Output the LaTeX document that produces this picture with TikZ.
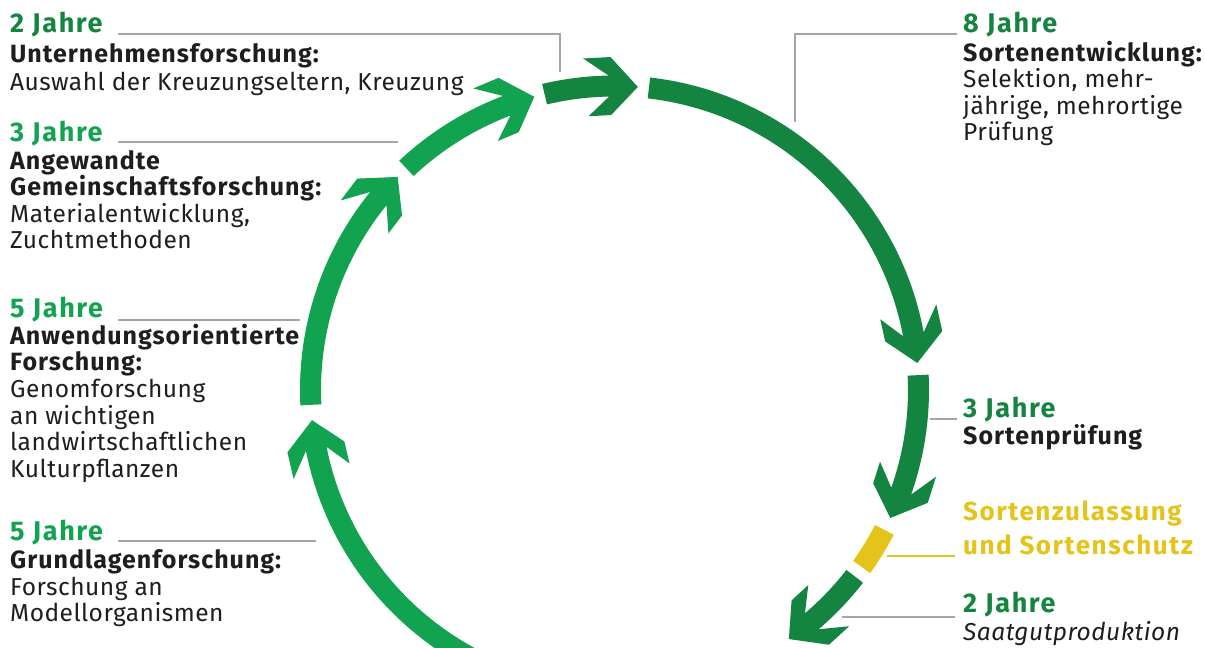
\documentclass[tikz,border=0pt]{standalone}
\usepackage{fontspec}
\setmainfont{Fira Sans}
\definecolor{lgreen}{RGB}{18,163,80}
\definecolor{dgreen}{RGB}{20,133,64}
\definecolor{ylw}{RGB}{228,196,26}
\definecolor{linegray}{RGB}{165,165,165}
\definecolor{txt}{RGB}{30,30,30}
\newcommand{\cyclearrow}[3]{%
  \pgfmathsetmacro{\an}{#2+5.47}%
  \pgfmathsetmacro{\af}{#2+5.09}%
  \pgfmathsetmacro{\ar}{#2+9.8}%
  \fill[#3] (#1:314.5) arc[start angle=#1, end angle=\an, radius=314.5]
    -- (\ar:333) -- (\af:333) -- (#2:304) -- (\af:275) -- (\ar:275)
    -- (\an:293.5) arc[start angle=\an, end angle=#1, radius=293.5] -- cycle;
}
\begin{document}
\begin{tikzpicture}[x=1pt,y=1pt,
  yr/.style={font=\fontsize{27}{30}\selectfont\bfseries\addfontfeatures{LetterSpace=6}, anchor=base west, inner sep=0pt},
  yl/.style={font=\fontsize{26}{30}\selectfont\bfseries\addfontfeatures{LetterSpace=6}, text=ylw, anchor=base west, inner sep=0pt},
  hd/.style={font=\fontsize{25}{30}\selectfont\bfseries\addfontfeatures{LetterSpace=4}, text=txt, anchor=base west, inner sep=0pt},
  bd/.style={font=\fontsize{24.5}{30}\selectfont\addfontfeatures{LetterSpace=2}, text=txt, anchor=base west, inner sep=0pt},
  leader/.style={draw=linegray, line width=1.3pt}]
\useasboundingbox (0,0) rectangle (1205,648);
\fill[white] (0,0) rectangle (1205,648);
\begin{scope}
\clip (0,0) rectangle (1205,648);
\begin{scope}[shift={(614.5,258)}]
\cyclearrow{242}{185.7}{lgreen}
\cyclearrow{182.8}{135.5}{lgreen}
\cyclearrow{133.2}{105.3}{lgreen}
\cyclearrow{103.3}{85.6}{dgreen}
\cyclearrow{83.5}{5.1}{dgreen}
\cyclearrow{2.8}{-24.9}{dgreen}
\fill[ylw] (-27.4:314.5) arc[start angle=-27.4, end angle=-35.6, radius=314.5]
  -- (-35.6:293.5) arc[start angle=-35.6, end angle=-27.4, radius=293.5] -- cycle;
\cyclearrow{-37.8}{-55}{dgreen}
\end{scope}
\end{scope}
% left column
\node[yr, text=dgreen] (j1) at (10,615) {2 Jahre};
\node[hd] (h1) at (10,585) {Unternehmensforschung:};
\node[bd] (b1) at (10,557) {Auswahl der Kreuzungseltern, Kreuzung};
\node[yr, text=lgreen] (j2) at (10,506) {3 Jahre};
\node[hd] (h2a) at (10,478) {Angewandte};
\node[hd] (h2b) at (10,452) {Gemeinschaftsforschung:};
\node[bd] (b2a) at (10,425) {Materialentwicklung,};
\node[bd] (b2b) at (10,399) {Zuchtmethoden};
\node[yr, text=lgreen] (j3) at (10,330) {5 Jahre};
\node[hd] (h3a) at (10,303) {Anwendungsorientierte};
\node[hd] (h3b) at (10,277) {Forschung:};
\node[bd] (b3a) at (10,250) {Genomforschung};
\node[bd] (b3b) at (10,223) {an wichtigen};
\node[bd] (b3c) at (10,197) {landwirtschaftlichen};
\node[bd] (b3d) at (10,170) {Kulturpflanzen};
\node[yr, text=lgreen] (j4) at (10,107) {5 Jahre};
\node[hd] (h4) at (10,79) {Grundlagenforschung:};
\node[bd] (b4a) at (10,52) {Forschung an};
\node[bd] (b4b) at (10,26) {Modellorganismen};
% right column
\node[yr, text=dgreen] (j5) at (963,615) {8 Jahre};
\node[hd] (h5) at (963,586) {Sortenentwicklung:};
\node[bd] (b5a) at (963,560) {Selektion, mehr-};
\node[bd] (b5b) at (963,533) {jährige, mehrortige};
\node[bd] (b5c) at (963,507) {Prüfung};
\node[yr, text=dgreen] (j6) at (963,230) {3 Jahre};
\node[hd] (h6) at (963,203) {Sortenprüfung};
\node[yl] (y1) at (963,127) {Sortenzulassung};
\node[yl] (y2) at (963,93) {und Sortenschutz};
\node[yr, text=dgreen] (j7) at (963,35) {2 Jahre};
\node[bd, font=\fontsize{24.5}{30}\selectfont\itshape\addfontfeatures{LetterSpace=2}] (b7) at (963,8) {Saatgutproduktion};
% leader lines
\coordinate (l1a) at (118,614); \coordinate (l1b) at (560,614); \coordinate (l1c) at (560,576);
\coordinate (l2a) at (118,506); \coordinate (l2b) at (398,506);
\coordinate (l3a) at (118,328); \coordinate (l3b) at (300,328);
\coordinate (l4a) at (118,107); \coordinate (l4b) at (316,107);
\coordinate (r1a) at (957,614); \coordinate (r1b) at (795,614); \coordinate (r1c) at (795,526);
\coordinate (r2a) at (957,229); \coordinate (r2b) at (930,229);
\coordinate (r3a) at (955,92); \coordinate (r3b) at (887,92);
\coordinate (r4a) at (955,31); \coordinate (r4b) at (842,31);
\draw[leader] (l1a) -- (l1b) -- (l1c);
\draw[leader] (l2a) -- (l2b);
\draw[leader] (l3a) -- (l3b);
\draw[leader] (l4a) -- (l4b);
\draw[leader] (r1a) -- (r1b) -- (r1c);
\draw[leader] (r2a) -- (r2b);
\draw[leader, draw=ylw, line width=2pt] (r3a) -- (r3b);
\draw[leader] (r4a) -- (r4b);
\end{tikzpicture}
\end{document}
